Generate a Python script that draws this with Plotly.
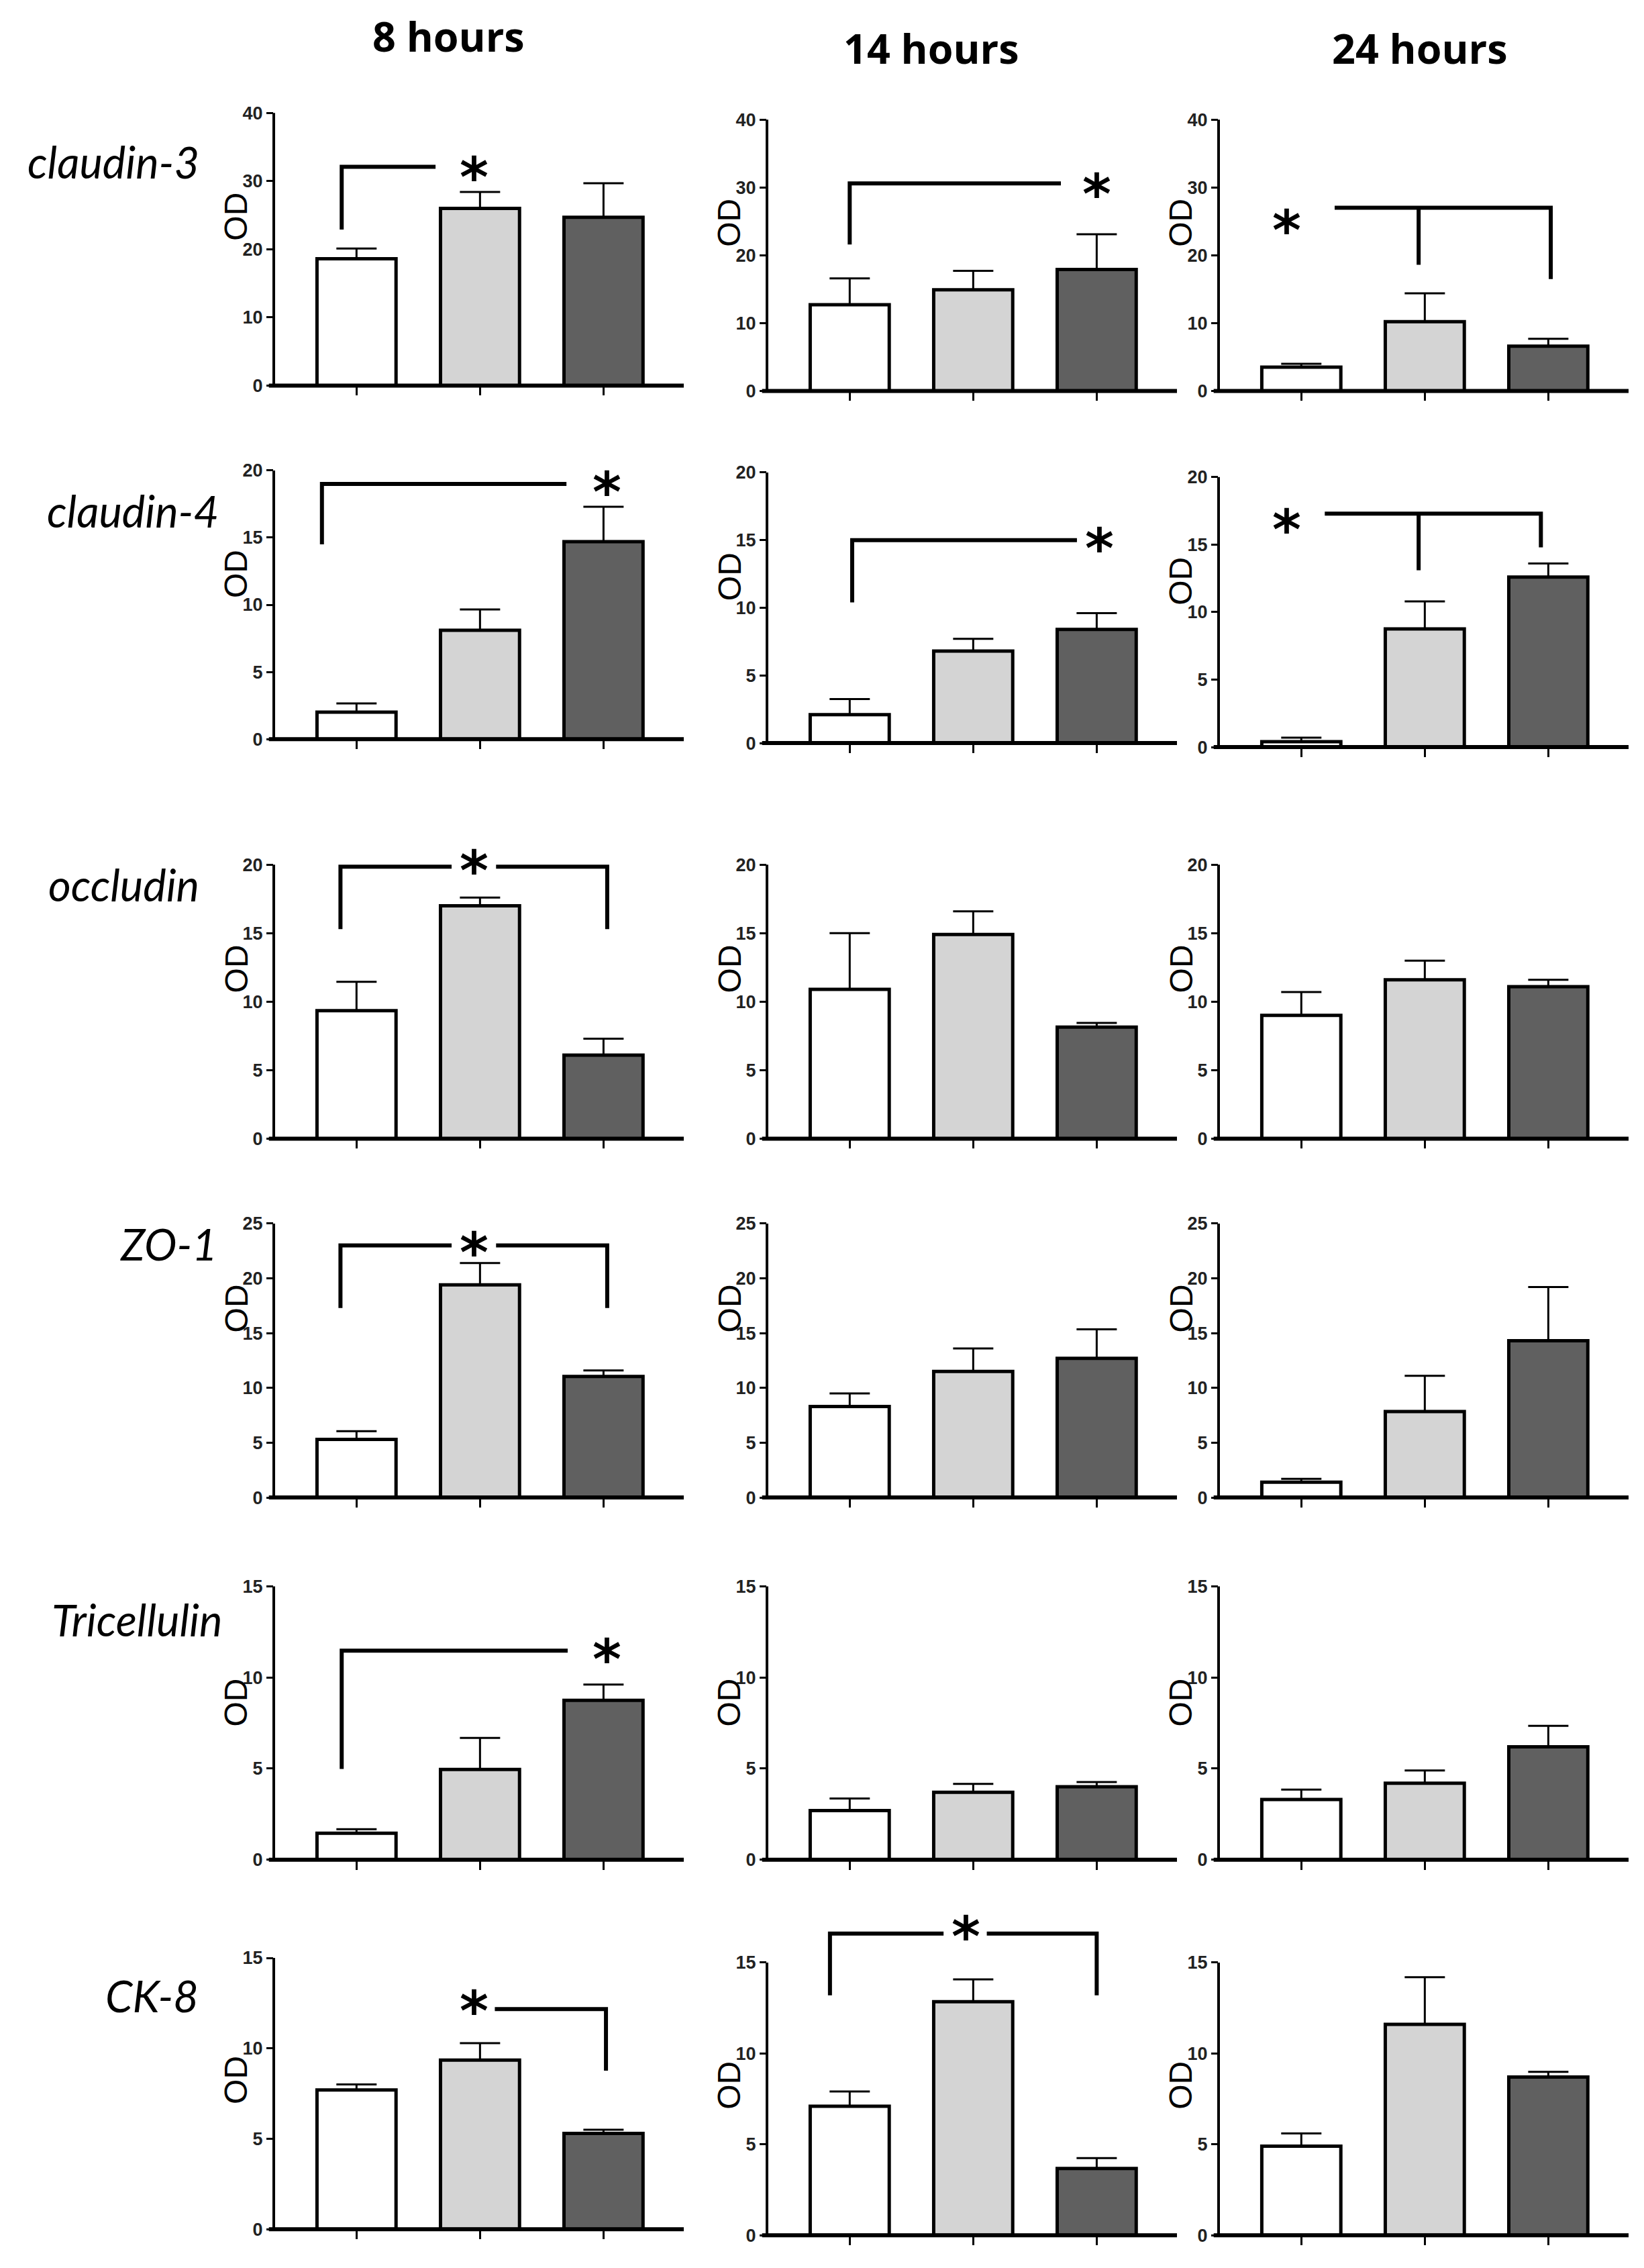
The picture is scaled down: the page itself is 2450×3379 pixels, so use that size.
import plotly.graph_objects as go

# ---------------- data ----------------
genes = ["claudin-3", "claudin-4", "occludin", "ZO-1", "Tricellulin", "CK-8"]
times = ["8 hours", "14 hours", "24 hours"]
y_max = [40, 20, 20, 25, 15, 15]
y_step = [10, 5, 5, 5, 5, 5]

# mean OD for the three groups at 8 h, 14 h, 24 h
claudin3_mean = [[18.6, 26.0, 24.7], [12.7, 14.9, 17.9], [3.5, 10.2, 6.6]]
claudin3_err = [[1.5, 2.4, 5.0], [3.9, 2.8, 5.2], [0.5, 4.2, 1.1]]
claudin4_mean = [[2.0, 8.1, 14.7], [2.1, 6.8, 8.4], [0.4, 8.75, 12.6]]
claudin4_err = [[0.65, 1.55, 2.6], [1.15, 0.9, 1.2], [0.3, 2.05, 1.0]]
occludin_mean = [[9.35, 17.0, 6.1], [10.9, 14.9, 8.15], [9.0, 11.6, 11.1]]
occludin_err = [[2.1, 0.6, 1.2], [4.1, 1.7, 0.3], [1.7, 1.4, 0.5]]
zo1_mean = [[5.3, 19.4, 11.05], [8.3, 11.5, 12.7], [1.4, 7.85, 14.3]]
zo1_err = [[0.75, 2.0, 0.55], [1.2, 2.1, 2.65], [0.3, 3.25, 4.9]]
tric_mean = [[1.45, 4.95, 8.75], [2.7, 3.7, 4.0], [3.3, 4.2, 6.2]]
tric_err = [[0.22, 1.73, 0.86], [0.66, 0.46, 0.26], [0.55, 0.7, 1.15]]
ck8_mean = [[7.7, 9.35, 5.3], [7.1, 12.85, 3.67], [4.9, 11.6, 8.7]]
ck8_err = [[0.31, 0.94, 0.2], [0.81, 1.23, 0.57], [0.7, 2.6, 0.29]]

means = [claudin3_mean, claudin4_mean, occludin_mean, zo1_mean, tric_mean, ck8_mean]
errs = [claudin3_err, claudin4_err, occludin_err, zo1_err, tric_err, ck8_err]
bar_colors = ["#ffffff", "#d4d4d4", "#606060"]

# significance brackets (data coordinates of each panel) and star positions
sig = {
    (0, 0): ([[(-0.12, 22.9), (-0.12, 32.1), (0.64, 32.1)]], (0.95, 31.4)),
    (0, 1): ([[(0.0, 21.6), (0.0, 30.6), (1.71, 30.6)]], (2.0, 29.9)),
    (0, 2): ([[(0.27, 27.0), (2.02, 27.0), (2.02, 16.5)], [(0.95, 27.0), (0.95, 18.6)]], (-0.12, 24.5)),
    (1, 0): ([[(-0.28, 14.5), (-0.28, 19.0), (1.7, 19.0)]], (2.03, 18.8)),
    (1, 1): ([[(0.02, 10.4), (0.02, 15.0), (1.84, 15.0)]], (2.02, 14.8)),
    (1, 2): ([[(0.19, 17.3), (1.94, 17.3), (1.94, 14.8)], [(0.95, 17.3), (0.95, 13.1)]], (-0.12, 16.55)),
    (2, 0): ([[(0.77, 19.85), (-0.13, 19.85), (-0.13, 15.3)], [(1.13, 19.85), (2.03, 19.85), (2.03, 15.3)]], (0.95, 20.0)),
    (3, 0): ([[(0.77, 23.0), (-0.13, 23.0), (-0.13, 17.3)], [(1.13, 23.0), (2.03, 23.0), (2.03, 17.3)]], (0.95, 22.9)),
    (4, 0): ([[(-0.12, 4.98), (-0.12, 11.47), (1.71, 11.47)]], (2.03, 11.3)),
    (5, 0): ([[(1.12, 12.17), (2.02, 12.17), (2.02, 8.77)]], (0.95, 12.4)),
    (5, 1): ([[(0.76, 16.6), (-0.16, 16.6), (-0.16, 13.2)], [(1.11, 16.6), (2.0, 16.6), (2.0, 13.2)]], (0.94, 16.75)),
}

# ---------------- layout geometry (pixels) ----------------
W, H = 2450, 3379
col_x = [400, 1135, 1808]
plot_w = 611
x_range = [-0.67, 2.65]
ext = 1.15
rows_px = [
    [(161, 569), (171, 577), (171, 577)],
    [(696, 1098), (699, 1104), (706, 1110)],
    [(1286, 1696)] * 3,
    [(1823, 2233)] * 3,
    [(2366, 2775)] * 3,
    [(2922, 3328), (2929, 3337), (2929, 3337)],
]
od_frac = [0.62, 0.615, 0.62, 0.69, 0.575, 0.55]
gene_pos = [(31, 234), (60, 756), (62, 1316), (169, 1853), (67, 2416), (147, 2978)]
title_pos = [(660, 46), (1380, 64), (2108, 64)]

fig = go.Figure()
layout = dict(
    width=W, height=H, margin=dict(l=0, r=0, t=0, b=0),
    paper_bgcolor="white", plot_bgcolor="white", showlegend=False,
)
shapes = []
annotations = []

for r in range(6):
    for c in range(3):
        s = r * 3 + c + 1
        sfx = "" if s == 1 else str(s)
        top, zero = rows_px[r][c]
        span = zero - top
        fig.add_trace(go.Bar(
            x=[0, 1, 2], y=means[r][c], xaxis="x" + sfx, yaxis="y" + sfx,
            width=0.64,
            marker=dict(color=bar_colors, line=dict(color="black", width=5)),
            error_y=dict(type="data", symmetric=False, array=errs[r][c],
                         arrayminus=[0, 0, 0], color="black", thickness=3, width=30),
            hoverinfo="skip",
        ))
        layout["xaxis" + sfx] = dict(
            domain=[col_x[c] / W, (col_x[c] + plot_w) / W], range=x_range,
            anchor="y" + sfx, showline=False,
            ticks="outside", ticklen=14, tickwidth=3, tickcolor="black",
            tickvals=[0, 1, 2], showticklabels=False, showgrid=False, zeroline=False,
        )
        layout["yaxis" + sfx] = dict(
            domain=[1 - zero / H, 1 - (zero - ext * span) / H],
            range=[0, ext * y_max[r]], anchor="x" + sfx, showline=False,
            ticks="outside", ticklen=10, tickwidth=3, tickcolor="black",
            tickvals=list(range(0, y_max[r] + 1, y_step[r])),
            tickfont=dict(family="Liberation Sans, Arial", size=27, color="#222", weight="bold"),
            showgrid=False, zeroline=False,
        )
        # axis lines
        shapes.append(dict(type="line", xref="x" + sfx + " domain", yref="y" + sfx + " domain",
                           x0=0, x1=0, y0=0, y1=1 / ext, line=dict(color="black", width=4)))
        shapes.append(dict(type="line", xref="x" + sfx + " domain", yref="y" + sfx + " domain",
                           x0=-0.012, x1=1, y0=0, y1=0, line=dict(color="black", width=6)))
        # OD label
        annotations.append(dict(
            text="OD", textangle=-90, xref="paper", yref="paper",
            x=(col_x[c] - 56) / W, y=1 - (zero - od_frac[r] * span) / H,
            xanchor="center", yanchor="middle", showarrow=False,
            font=dict(family="Liberation Sans, Arial", size=48, color="black"),
        ))
        if (r, c) in sig:
            lines, star = sig[(r, c)]
            for pl in lines:
                path = "M " + " L ".join(f"{px},{py}" for px, py in pl)
                shapes.append(dict(type="path", xref="x" + sfx, yref="y" + sfx, path=path,
                                   line=dict(color="black", width=6)))
            annotations.append(dict(
                text="*", x=star[0], y=star[1], xref="x" + sfx, yref="y" + sfx,
                xanchor="center", yanchor="middle", yshift=-9, showarrow=False,
                font=dict(family="DejaVu Sans", size=82, color="black", weight="bold"),
            ))

for i, g in enumerate(genes):
    gx, gy = gene_pos[i]
    annotations.append(dict(
        text=f"<i>{g}</i>", x=gx / W, y=1 - gy / H, xref="paper", yref="paper",
        xanchor="left", yanchor="middle", showarrow=False,
        font=dict(family="Lato, Open Sans", size=65, color="black"),
    ))
for i, t in enumerate(times):
    tx, ty = title_pos[i]
    annotations.append(dict(
        text=f"<b>{t}</b>", x=tx / W, y=1 - ty / H, xref="paper", yref="paper",
        xanchor="center", yanchor="middle", showarrow=False,
        font=dict(family="Open Sans", size=61, color="black"),
    ))

layout["shapes"] = shapes
layout["annotations"] = annotations
fig.update_layout(**layout)
fig.write_html("out.html")
